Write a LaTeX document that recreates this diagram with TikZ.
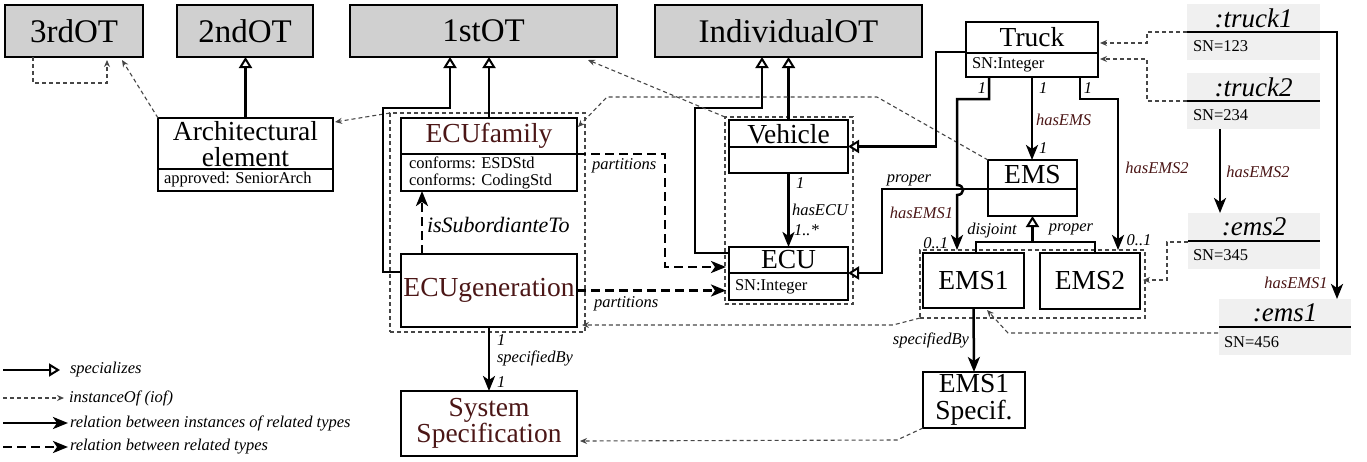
\documentclass[tikz,border=0pt]{standalone}
\usepackage{fontspec}
\setmainfont{Liberation Serif}
\usetikzlibrary{arrows.meta,calc}

\definecolor{otgray}{RGB}{208,208,208}
\definecolor{instfill}{RGB}{240,240,240}
\definecolor{relred}{RGB}{75,22,22}
\definecolor{iofgray}{RGB}{70,70,70}

\newcommand{\fsOT}{\fontsize{33}{33}\selectfont}
\newcommand{\fsTitle}{\fontsize{27.5}{26.5}\selectfont}
\newcommand{\fsAttr}{\fontsize{16.5}{16.5}\selectfont}
\newcommand{\fsLbl}{\fontsize{16.5}{17}\selectfont\itshape}
\newcommand{\fsSub}{\fontsize{22}{22}\selectfont\itshape}
\newcommand{\fsInst}{\fontsize{27}{27}\selectfont\itshape}

\tikzset{
  every node/.style={outer sep=0pt},
  sz/.style 2 args={minimum width=#1pt, minimum height=#2pt},
  otbox/.style={draw, fill=otgray, line width=2.5pt, inner sep=0pt, anchor=north west, font=\fsOT},
  clsbox/.style={draw, line width=2.5pt, inner sep=0pt, anchor=north west, font=\fsTitle, align=center},
  instbox/.style={fill=instfill, inner sep=0pt, anchor=north west},
  grp/.style={draw=iofgray, line width=1.1pt, dash pattern=on 4pt off 3pt, inner sep=0pt, anchor=north west},
  divl/.style={line width=2.5pt},
  ttl/.style={font=\fsTitle, inner sep=0pt, align=center},
  attr/.style={font=\fsAttr, inner sep=0pt, align=left, anchor=west},
  ititle/.style={font=\fsInst, inner sep=0pt},
  lbl/.style={font=\fsLbl, inner sep=0pt},
  rlbl/.style={lbl, text=relred},
  spec/.style={line width=2.5pt, -{Triangle[open, length=11pt, width=13pt, line width=2pt]}},
  rel/.style={line width=2.5pt, -{Stealth[length=15pt, width=12pt, inset=4pt]}},
  rtype/.style={rel, dash pattern=on 9pt off 5pt},
  iof/.style={line width=1.1pt, draw=iofgray, dash pattern=on 4pt off 3pt, -{Stealth[length=7pt, width=6pt]}}
}

\begin{document}
\begin{tikzpicture}[x=1pt,y=-1pt]
\useasboundingbox (0,0) rectangle (1367,461);

% ---------- grouping frames ----------
\node[grp, sz={195}{219}] (grpA) at (390,113) {};
\node[grp, sz={128}{187}] (grpV) at (725,117) {};
\node[grp, sz={225}{68}] (grpE) at (920,250) {};

% ---------- order types ----------
\node[otbox, sz={138}{52}] (ot3) at (5,5) {3rdOT};
\node[otbox, sz={136}{52}] (ot2) at (177,5) {2ndOT};
\node[otbox, sz={267}{52}] (ot1) at (350,5) {1stOT};
\node[otbox, sz={267}{52}] (otI) at (655,5) {IndividualOT};

% ---------- classes ----------
\node[clsbox, sz={175}{73}] (arch) at (158,118) {};
\draw[divl] ($(arch.north west)+(0,51)$) -- ($(arch.north east)+(0,51)$);
\node[ttl] (archt) at ($(arch.north)+(0,26)$) {Architectural\\element};
\node[attr] (archa) at ($(arch.north west)+(6,62)$) {approved: SeniorArch};

\node[clsbox, sz={176}{73}] (ecufam) at (401,118) {};
\draw[divl] ($(ecufam.north west)+(0,36)$) -- ($(ecufam.north east)+(0,36)$);
\node[ttl, text=relred] (ecufamt) at ($(ecufam.north)+(0,18)$) {ECUfamily};
\node[attr] (ecufama) at ($(ecufam.north west)+(8,55)$) {conforms: ESDStd\\conforms: CodingStd};

\node[clsbox, sz={176}{73}, text=relred] (ecugen) at (401,254) {ECUgeneration};
\node[clsbox, sz={176}{65}, text=relred] (syspec) at (401,391) {System\\Specification};

\node[clsbox, sz={119}{53}] (vehicle) at (729,120) {};
\draw[divl] ($(vehicle.north west)+(0,27)$) -- ($(vehicle.north east)+(0,27)$);
\node[ttl] (vehiclet) at ($(vehicle.north)+(0,14)$) {Vehicle};

\node[clsbox, sz={119}{53}] (ecu) at (729,247) {};
\draw[divl] ($(ecu.north west)+(0,26)$) -- ($(ecu.north east)+(0,26)$);
\node[ttl] (ecut) at ($(ecu.north)+(0,13)$) {ECU};
\node[attr] (ecua) at ($(ecu.north west)+(6,40)$) {SN:Integer};

\node[clsbox, sz={132}{55}] (truck) at (966,22) {};
\draw[divl] ($(truck.north west)+(0,31)$) -- ($(truck.north east)+(0,31)$);
\node[ttl] (truckt) at ($(truck.north)+(0,15.5)$) {Truck};
\node[attr] (trucka) at ($(truck.north west)+(6,43)$) {SN:Integer};

\node[clsbox, sz={89}{56}] (ems) at (988,160) {};
\draw[divl] ($(ems.north west)+(0,29)$) -- ($(ems.north east)+(0,29)$);
\node[ttl] (emst) at ($(ems.north)+(0,14.5)$) {EMS};

\node[clsbox, sz={101}{55}] (ems1) at (923,253) {EMS1};
\node[clsbox, sz={100}{56}] (ems2) at (1040,253) {EMS2};
\node[clsbox, sz={102}{56}] (ems1spec) at (923,372) {EMS1\\Specif.};

% ---------- instances ----------
\node[instbox, sz={133}{56}] (t1) at (1187,4) {};
\draw[divl] ($(t1.north west)+(0,28)$) -- ($(t1.north east)+(0,28)$);
\node[ititle] (t1t) at ($(t1.north)+(0,14)$) {:truck1};
\node[attr] (t1a) at ($(t1.north west)+(6,42)$) {SN=123};

\node[instbox, sz={133}{56}] (t2) at (1187,73) {};
\draw[divl] ($(t2.north west)+(0,28)$) -- ($(t2.north east)+(0,28)$);
\node[ititle] (t2t) at ($(t2.north)+(0,14)$) {:truck2};
\node[attr] (t2a) at ($(t2.north west)+(6,42)$) {SN=234};

\node[instbox, sz={132}{56}] (e2i) at (1188,213) {};
\draw[divl] ($(e2i.north west)+(0,28)$) -- ($(e2i.north east)+(0,28)$);
\node[ititle] (e2it) at ($(e2i.north)+(0,14)$) {:ems2};
\node[attr] (e2ia) at ($(e2i.north west)+(5,42)$) {SN=345};

\node[instbox, sz={132}{56}] (e1i) at (1219,299) {};
\draw[divl] ($(e1i.north west)+(0,28)$) -- ($(e1i.north east)+(0,28)$);
\node[ititle] (e1it) at ($(e1i.north)+(0,14)$) {:ems1};
\node[attr] (e1ia) at ($(e1i.north west)+(5,43)$) {SN=456};

% ---------- left part: architectural element and order types ----------
\draw[spec] (arch.north) -- (arch.north |- ot2.south);
\draw[iof] (arch.north west) -- ($(ot3.south east)+(-21,3)$);
\draw[iof] ($(ot3.south west)+(28,0)$) -- ++(0,26) -| ($(ot3.south west)+(102,3)$);
\draw[iof] (grpA.north west) -- ($(arch.north east)+(2,4)$);

% ---------- ECU family / generation ----------
\draw[spec] (ecufam.north) -- (ecufam.north |- ot1.south);
\draw[spec] ($(ecugen.north west)+(0,18)$) -- ++(-18,0) |- ($(ot1.south west)+(100,51)$) -- ($(ot1.south west)+(100,0)$);
\draw[rtype] ($(ecugen.north west)+(21,0)$) -- ($(ecufam.south west)+(21,0)$);
\node[lbl, font=\fsSub, anchor=west] (subl) at (427,225) {isSubordianteTo};

\draw[rtype] ($(ecufam.north east)+(0,36)$) -- ++(88,0) |- ($(ecu.north west)+(-3,20)$);
\node[lbl, anchor=west] (part1) at (592,166) {partitions};
\draw[rtype] (ecugen.east) -- ($(ecugen.east -| ecu.west)+(-3,0)$);
\node[lbl, anchor=west] (part2) at (594,304) {partitions};

\draw[rel] (ecugen.south) -- (syspec.north);
\node[lbl, anchor=west] (sbm1) at (497,340) {1};
\node[lbl, anchor=west] (sbl1) at (497,358) {specifiedBy};
\node[lbl, anchor=west] (sbm2) at (497,382) {1};

% ---------- vehicle / ECU ----------
\draw[spec] (vehicle.north) -- (vehicle.north |- otI.south);
\draw[spec] ($(ecu.north west)+(0,6)$) -- ++(-34,0) |- ($(otI.south west)+(107,51)$) -- ($(otI.south west)+(107,0)$);
\draw[rel] (vehicle.south) -- (ecu.north);
\node[lbl, anchor=west] (hem1) at (796,183) {1};
\node[lbl, anchor=west] (hel) at (792,210) {hasECU};
\node[lbl, anchor=west] (hem2) at (794,230) {1..*};

\draw[iof] (grpV.north west) -- ($(ot1.south east)+(-29,3)$);
\draw[iof] (ems.north west) -- ($(ems.north west)+(-111,-63)$) -- ($(ecufam.north east)+(30,-21)$) -- ($(ecufam.north east)+(1,9)$);

% ---------- truck / EMS ----------
\draw[spec] ($(truck.north west)+(0,30)$) -- ++(-30,0) |- (vehicle.east);
\draw[rel] (truck.south) -- (truck.south |- ems.north);
\node[lbl, anchor=west] (hsm1) at (1039,88) {1};
\node[rlbl, anchor=west] (hsl) at (1036,120) {hasEMS};
\node[lbl, anchor=west] (hsm2) at (1039,148) {1};

\draw[rel] ($(truck.south west)+(23,0)$) -- ++(0,22) -- ++(-32,0)
  -- ($(ems1.north west)+(34,-68)$)
  .. controls ($(ems1.north west)+(42,-68)$) and ($(ems1.north west)+(42,-58)$) .. ($(ems1.north west)+(34,-58)$)
  -- ($(ems1.north west)+(34,-3)$);
\node[lbl] (h1m1) at (982,88) {1};
\node[rlbl, anchor=east] (h1l) at (953,213) {hasEMS1};
\node[lbl, anchor=east] (h1m2) at (948,243) {0..1};

\draw[spec] ($(ems.north west)+(0,29)$) -- ++(-106,0) |- ($(ecu.north east)+(0,26)$);
\node[lbl] (prp1) at (909,180) {proper};

\draw[line width=2.5pt] ($(ems1.north west)+(53,0)$) |- ($(ems2.north west)+(55,-11)$) -- ($(ems2.north west)+(55,0)$);
\draw[spec] ($(ems.south)+(0,26)$) -- (ems.south);
\node[lbl] (dsj) at (992,231) {disjoint};
\node[lbl] (prp2) at (1071,229) {proper};

\draw[rel] ($(truck.south east)+(-18,0)$) -- ++(0,22) -| ($(ems2.north west)+(78,-3)$);
\node[lbl] (h2m1) at (1088,88) {1};
\node[rlbl] (h2l) at (1157,168) {hasEMS2};
\node[lbl] (h2m2) at (1139,240) {0..1};

\draw[rel] (ems1.south) -- (ems1spec.north);
\node[lbl, anchor=east] (sbl2) at (969,340) {specifiedBy};
\draw[iof] (ems1spec.south west) -- ($(ems1spec.south west)+(-26,12)$) -- ($(syspec.south east)+(3,-15)$);
\draw[iof] (grpE.south west) -- ($(grpE.south west)+(-27,7)$) -- ($(grpA.south east)+(-3,-7)$);

% ---------- instance links ----------
\draw[iof] ($(t1.north west)+(0,28)$) -- ++(-40,0) |- ($(truck.north east)+(2,21)$);
\draw[iof] ($(t2.north west)+(0,28)$) -- ++(-40,0) |- ($(truck.north east)+(2,37)$);
\draw[rel] ($(t1.north east)+(0,28)$) -| ($(e1i.north west)+(118,0)$);
\node[rlbl] (ih1) at (1296,283) {hasEMS1};
\draw[rel] ($(t2.south west)+(33,0)$) -- ($(e2i.north west)+(32,0)$);
\node[rlbl] (ih2) at (1258,172) {hasEMS2};
\draw[iof] ($(e2i.north west)+(0,29)$) -- ++(-21,0) |- ($(grpE.south east)+(-2,-38)$);
\draw[iof] ($(e1i.north west)+(-1,34)$) -- ($(ems1.south west)+(85,25)$) -- ($(ems1.south west)+(64,2)$);

% ---------- legend ----------
\node[lbl, anchor=west] (lg1) at (70,370) {specializes};
\node[lbl, anchor=west] (lg2) at (69,398) {instanceOf (iof)};
\node[lbl, anchor=west] (lg3) at (70,423) {relation between instances of related types};
\node[lbl, anchor=west] (lg4) at (70,447) {relation between related types};
\coordinate (lg1s) at (3,370);
\coordinate (lg2s) at (3,398);
\coordinate (lg3s) at (3,423);
\coordinate (lg4s) at (3,447);
\draw[spec] (lg1s) -- ($(lg1.west)+(-10,0)$);
\draw[iof] (lg2s) -- ($(lg2.west)+(-5,0)$);
\draw[rel] (lg3s) -- ($(lg3.west)+(-2,0)$);
\draw[rtype] (lg4s) -- ($(lg4.west)+(-2,0)$);
\end{tikzpicture}
\end{document}
